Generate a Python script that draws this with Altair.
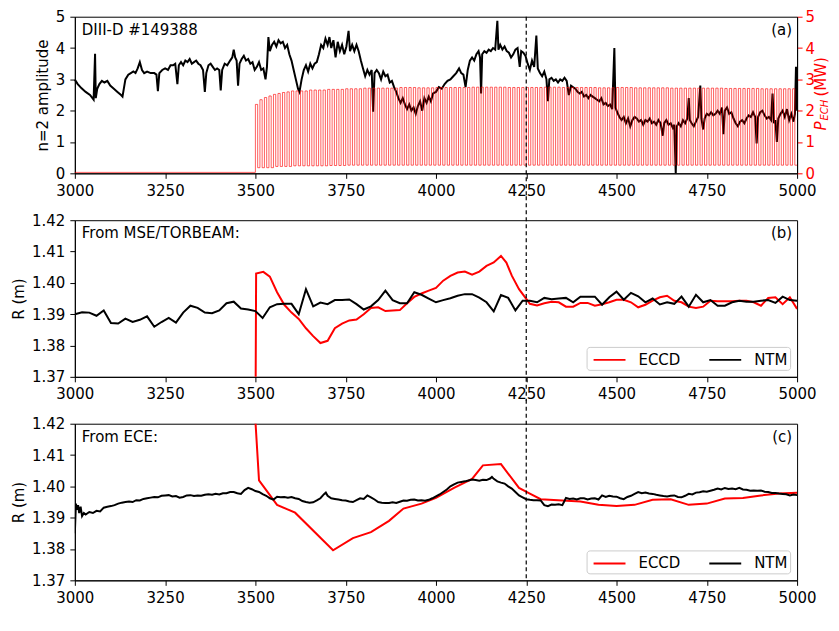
import altair as alt
import pandas as pd

# ---------------- data ----------------
# (a) n=2 amplitude (black)
amp_time = [3000, 3008, 3018, 3030, 3042, 3052, 3056, 3058, 3062, 3068, 3075, 3082, 3090, 3098, 3108, 3118,
            3128, 3132, 3140, 3148, 3155, 3162, 3168, 3174, 3180, 3186, 3192, 3200, 3210, 3220, 3226, 3230,
            3234, 3242, 3250, 3258, 3265, 3272, 3278, 3284, 3288, 3294, 3300, 3306, 3312, 3318, 3324, 3330,
            3336, 3342, 3348, 3355, 3360, 3364, 3370, 3376, 3382, 3388, 3394, 3400, 3404, 3408, 3415, 3422,
            3430, 3436, 3440, 3444, 3448, 3452, 3456, 3462, 3468, 3474, 3480, 3486, 3492, 3498, 3504, 3510,
            3516, 3522, 3528, 3532, 3536, 3540, 3546, 3552, 3558, 3564, 3570, 3576, 3582, 3588, 3594, 3600,
            3606, 3612, 3618, 3622, 3628, 3634, 3640, 3646, 3652, 3658, 3664, 3670, 3676, 3682, 3688, 3694,
            3700, 3705, 3710, 3716, 3722, 3728, 3734, 3740, 3746, 3752, 3758, 3762, 3768, 3774, 3780, 3786,
            3792, 3798, 3804, 3810, 3816, 3822, 3826, 3830, 3836, 3842, 3848, 3854, 3860, 3866, 3872, 3878,
            3884, 3890, 3896, 3902, 3908, 3914, 3920, 3926, 3932, 3938, 3944, 3950, 3956, 3962, 3968, 3974,
            3980, 3986, 3992, 4000, 4008, 4016, 4024, 4032, 4040, 4048, 4056, 4064, 4070, 4076, 4082, 4088,
            4094, 4100, 4106, 4112, 4118, 4122, 4125, 4128, 4134, 4140, 4146, 4152, 4158, 4164, 4170, 4173,
            4178, 4184, 4190, 4196, 4202, 4208, 4214, 4220, 4226, 4232, 4236, 4242, 4248, 4254, 4260, 4266,
            4272, 4278, 4282, 4288, 4294, 4300, 4306, 4310, 4314, 4320, 4326, 4332, 4338, 4344, 4350, 4356,
            4362, 4368, 4374, 4380, 4386, 4392, 4398, 4404, 4410, 4416, 4422, 4428, 4434, 4440, 4446, 4452,
            4458, 4464, 4470, 4476, 4482, 4488, 4494, 4497, 4502, 4508, 4514, 4520, 4526, 4532, 4538, 4544,
            4550, 4556, 4562, 4568, 4574, 4580, 4586, 4592, 4598, 4604, 4610, 4616, 4622, 4628, 4632, 4638,
            4644, 4650, 4656, 4660, 4664, 4667, 4672, 4678, 4684, 4690, 4696, 4700, 4703, 4708, 4714, 4720,
            4726, 4732, 4735, 4740, 4744, 4750, 4756, 4762, 4768, 4774, 4780, 4786, 4792, 4796, 4800, 4806,
            4812, 4818, 4824, 4830, 4836, 4842, 4848, 4854, 4860, 4866, 4872, 4878, 4884, 4888, 4892, 4898,
            4904, 4910, 4916, 4922, 4928, 4932, 4936, 4940, 4944, 4948, 4954, 4960, 4966, 4972, 4978, 4984,
            4990, 4994, 4997, 5000]
amp_value = [2.99, 2.85, 2.72, 2.60, 2.50, 2.35, 3.82, 2.40, 2.70, 2.85, 2.95, 2.90, 2.95, 2.80, 2.70, 2.60,
             2.50, 2.45, 3.00, 3.15, 3.20, 3.25, 3.20, 3.35, 3.55, 3.30, 3.20, 3.25, 3.20, 3.20, 3.15, 2.62,
             3.20, 3.30, 3.35, 3.30, 3.45, 3.45, 3.50, 2.85, 3.45, 3.55, 3.45, 3.60, 3.55, 3.65, 3.50, 3.55,
             3.60, 3.50, 3.45, 3.30, 2.60, 3.20, 3.45, 3.50, 3.40, 3.30, 3.35, 3.30, 2.65, 3.30, 3.50, 3.45,
             3.60, 3.70, 3.95, 3.70, 3.60, 2.80, 3.50, 3.65, 3.75, 3.60, 3.65, 3.50, 3.55, 3.30, 3.40, 3.55,
             3.30, 3.35, 3.00, 3.40, 4.35, 3.90, 4.10, 4.20, 4.05, 4.25, 4.15, 4.20, 4.00, 4.10, 3.80, 3.60,
             3.30, 3.00, 2.70, 2.60, 3.00, 3.30, 3.45, 3.25, 3.50, 3.35, 3.50, 3.55, 3.80, 4.10, 4.00, 4.30,
             4.10, 4.35, 4.00, 4.25, 3.70, 4.20, 3.90, 4.10, 3.80, 4.05, 4.55, 3.90, 4.10, 3.90, 4.10, 3.90,
             3.60, 3.35, 3.10, 3.30, 3.15, 3.30, 1.97, 3.20, 3.30, 3.20, 3.00, 3.25, 3.10, 3.15, 2.90, 2.95,
             2.75, 2.60, 2.40, 2.25, 2.40, 2.20, 2.05, 2.20, 2.00, 2.10, 1.90, 2.15, 2.30, 2.00, 2.40, 2.25,
             2.45, 2.30, 2.55, 2.60, 2.75, 2.70, 2.85, 2.95, 3.00, 3.10, 3.20, 3.35, 3.20, 3.15, 2.75, 3.30,
             3.60, 3.70, 3.60, 3.80, 3.90, 3.70, 2.55, 3.80, 3.90, 3.85, 3.95, 3.90, 4.00, 3.95, 4.87, 3.95,
             4.10, 3.95, 4.05, 3.90, 3.85, 3.70, 3.80, 3.95, 4.00, 3.40, 3.90, 3.85, 3.75, 3.50, 3.30, 3.60,
             3.40, 4.40, 3.35, 3.20, 3.10, 3.25, 3.00, 2.30, 3.00, 3.05, 2.95, 3.00, 2.90, 3.00, 2.95, 3.05,
             2.95, 2.50, 2.80, 2.75, 2.70, 2.60, 2.55, 2.60, 2.45, 2.50, 2.40, 2.50, 2.45, 2.40, 2.35, 2.30,
             2.40, 2.20, 2.25, 2.15, 2.20, 2.05, 4.00, 2.10, 1.95, 1.80, 1.70, 1.80, 1.60, 1.75, 1.50, 1.70,
             1.80, 1.75, 1.65, 1.70, 1.55, 1.70, 1.65, 1.75, 1.60, 1.65, 1.55, 1.70, 1.60, 1.20, 1.60, 1.70,
             1.55, 1.60, 1.45, 1.55, 0.00, 1.50, 1.60, 1.50, 1.70, 1.60, 1.75, 2.40, 1.70, 1.60, 1.50, 1.65,
             1.80, 2.80, 1.75, 1.40, 1.75, 1.90, 1.85, 1.95, 1.85, 1.90, 2.00, 1.90, 2.10, 1.25, 2.00, 2.10,
             1.90, 1.95, 1.75, 1.60, 1.50, 1.65, 1.70, 1.60, 1.75, 1.85, 1.80, 1.95, 1.80, 0.95, 1.80, 1.95,
             2.00, 1.85, 1.75, 1.80, 1.70, 2.55, 1.60, 1.70, 1.00, 1.75, 1.90, 2.00, 1.80, 2.05, 1.70, 1.90,
             1.65, 1.90, 3.40, 2.00]

# (a) ECH power (red): square-wave modulation
ech_off_level = 0.03          # MW before turn-on
ech_on_time = 3500            # ms
ech_period = 12.5             # ms (modulation period)
ech_ramp_high = [2.20, 2.35, 2.42, 2.47, 2.52, 2.55, 2.58, 2.60]   # first cycles (turn-on ramp)
ech_block_ms = 50             # afterwards: levels per 50 ms block from 3500 ms
ech_high = [2.60, 2.60, 2.63, 2.66, 2.68, 2.70, 2.72, 2.72, 2.74, 2.73,
            2.74, 2.74, 2.75, 2.75, 2.74, 2.74, 2.75, 2.74, 2.74, 2.73,
            2.74, 2.73, 2.73, 2.72, 2.72, 2.72, 2.71, 2.71, 2.70, 2.70]
ech_low = [0.18, 0.22, 0.24, 0.24, 0.25, 0.26, 0.26, 0.26, 0.26, 0.26,
           0.26, 0.26, 0.26, 0.26, 0.26, 0.26, 0.26, 0.26, 0.26, 0.26,
           0.26, 0.26, 0.26, 0.26, 0.26, 0.26, 0.26, 0.26, 0.26, 0.26]

# (b) From MSE/TORBEAM
b_ntm_time = list(range(3000, 5001, 20))
b_ntm_r = [1.3900, 1.3906, 1.3905, 1.3895, 1.3912, 1.3872, 1.3870, 1.3886, 1.3875, 1.3882,
           1.3893, 1.3860, 1.3875, 1.3888, 1.3873, 1.3905, 1.3927, 1.3920, 1.3905, 1.3903,
           1.3912, 1.3935, 1.3940, 1.3918, 1.3915, 1.3910, 1.3888, 1.3922, 1.3932, 1.3933,
           1.3933, 1.3900, 1.3980, 1.3925, 1.3937, 1.3932, 1.3945, 1.3945, 1.3947, 1.3932,
           1.3915, 1.3925, 1.3945, 1.3975, 1.3945, 1.3935, 1.3935, 1.3970, 1.3962, 1.3950,
           1.3938, 1.3945, 1.3951, 1.3959, 1.3964, 1.3964, 1.3953, 1.3938, 1.3909, 1.3961,
           1.3952, 1.3912, 1.3943, 1.3943, 1.3938, 1.3952, 1.3948, 1.3950, 1.3952, 1.3938,
           1.3956, 1.3956, 1.3956, 1.3930, 1.3954, 1.3972, 1.3946, 1.3968, 1.3957, 1.3938,
           1.3950, 1.3931, 1.3938, 1.3933, 1.3956, 1.3924, 1.3962, 1.3938, 1.3945, 1.3927,
           1.3927, 1.3938, 1.3943, 1.3940, 1.3940, 1.3943, 1.3945, 1.3936, 1.3956, 1.3945,
           1.3943]
b_eccd_time = [3500, 3502, 3522, 3540, 3560, 3580, 3600, 3620, 3640, 3660, 3680, 3700, 3720, 3740,
               3760, 3780, 3800, 3820, 3840, 3860, 3880, 3900, 3920, 3940, 3960, 3980, 4000, 4020,
               4040, 4060, 4080, 4100, 4120, 4140, 4160, 4180, 4195, 4210, 4230, 4250, 4260, 4280,
               4300, 4320, 4340, 4360, 4380, 4400, 4420, 4440, 4460, 4480, 4500, 4520, 4540, 4560,
               4580, 4600, 4620, 4640, 4660, 4680, 4700, 4720, 4740, 4760, 4780, 4800, 4820, 4840,
               4860, 4880, 4900, 4920, 4940, 4960, 4980, 5000]
b_eccd_r = [1.3500, 1.4030, 1.4035, 1.4020, 1.3970, 1.3930, 1.3905, 1.3885, 1.3855, 1.3830,
            1.3808, 1.3815, 1.3855, 1.3870, 1.3880, 1.3883, 1.3900, 1.3920, 1.3922, 1.3910,
            1.3912, 1.3913, 1.3935, 1.3955, 1.3966, 1.3975, 1.3984, 1.4007, 1.4022, 1.4033,
            1.4036, 1.4026, 1.4036, 1.4054, 1.4065, 1.4086, 1.4065, 1.4023, 1.3980, 1.3949,
            1.3933, 1.3928, 1.3935, 1.3940, 1.3938, 1.3924, 1.3924, 1.3936, 1.3936, 1.3927,
            1.3932, 1.3938, 1.3946, 1.3946, 1.3938, 1.3922, 1.3930, 1.3943, 1.3954, 1.3959,
            1.3943, 1.3938, 1.3924, 1.3920, 1.3924, 1.3943, 1.3941, 1.3941, 1.3941, 1.3943,
            1.3943, 1.3938, 1.3927, 1.3952, 1.3954, 1.3932, 1.3954, 1.3917]

# (c) From ECE
c_eccd_time = [3490, 3510, 3560, 3610, 3715, 3770, 3820, 3870, 3910, 3960, 4000, 4050, 4100, 4130,
               4180, 4230, 4260, 4290, 4350, 4400, 4450, 4500, 4550, 4600, 4650, 4700, 4750, 4800,
               4850, 4900, 4950, 5000]
c_eccd_r = [1.4400, 1.4019, 1.3941, 1.3916, 1.3796, 1.3835, 1.3854, 1.3890, 1.3929, 1.3945,
            1.3963, 1.3995, 1.4024, 1.4067, 1.4071, 1.3995, 1.3977, 1.3959, 1.3955, 1.3952,
            1.3941, 1.3937, 1.3941, 1.3957, 1.3959, 1.3941, 1.3945, 1.3961, 1.3963, 1.3971,
            1.3977, 1.3980]
c_ntm_time = [3000, 3003, 3006, 3009, 3012, 3016, 3020, 3025] + list(range(3030, 3691, 10)) + \
             [3695] + list(range(3700, 4151, 10)) + [4155] + list(range(4160, 5001, 10))
c_ntm_r = [1.3850, 1.3945, 1.3925, 1.3940, 1.3915, 1.3935, 1.3905, 1.3915,
           # 3030 .. 3690
           1.3910, 1.3918, 1.3915, 1.3922, 1.3920, 1.3932, 1.3935, 1.3937, 1.3940, 1.3945,
           1.3948, 1.3950, 1.3952, 1.3950, 1.3956, 1.3955, 1.3960, 1.3962, 1.3964, 1.3966,
           1.3965, 1.3970, 1.3971, 1.3972, 1.3968, 1.3969, 1.3964, 1.3966, 1.3971, 1.3972,
           1.3969, 1.3971, 1.3970, 1.3973, 1.3975, 1.3973, 1.3976, 1.3974, 1.3978, 1.3978,
           1.3982, 1.3982, 1.3978, 1.3976, 1.3988, 1.3995, 1.3991, 1.3985, 1.3982, 1.3975,
           1.3970, 1.3962, 1.3958, 1.3967, 1.3965, 1.3966, 1.3964, 1.3966, 1.3962, 1.3960,
           1.3953, 1.3950, 1.3948, 1.3949, 1.3955, 1.3962, 1.3975,
           # 3695
           1.3980,
           # 3700 .. 4150
           1.3970, 1.3962, 1.3960, 1.3958, 1.3956, 1.3955, 1.3952, 1.3950, 1.3956, 1.3962,
           1.3960, 1.3971, 1.3965, 1.3958, 1.3950, 1.3948, 1.3947, 1.3947, 1.3949, 1.3947,
           1.3951, 1.3955, 1.3954, 1.3957, 1.3958, 1.3955, 1.3956, 1.3954, 1.3957, 1.3962,
           1.3968, 1.3974, 1.3982, 1.3990, 1.4000, 1.4006, 1.4012, 1.4014, 1.4016, 1.4019,
           1.4022, 1.4020, 1.4018, 1.4021, 1.4020, 1.4025,
           # 4155
           1.4030,
           # 4160 .. 5000
           1.4024, 1.4016, 1.4012, 1.4009, 1.4000, 1.3993, 1.3982, 1.3971, 1.3965, 1.3959,
           1.3957, 1.3956, 1.3956, 1.3955, 1.3940, 1.3937, 1.3942, 1.3941, 1.3943, 1.3940,
           1.3963, 1.3960, 1.3961, 1.3958, 1.3962, 1.3962, 1.3958, 1.3961, 1.3962, 1.3958,
           1.3971, 1.3966, 1.3970, 1.3968, 1.3967, 1.3962, 1.3959, 1.3966, 1.3970, 1.3976,
           1.3982, 1.3978, 1.3980, 1.3977, 1.3976, 1.3973, 1.3971, 1.3969, 1.3968, 1.3970,
           1.3971, 1.3966, 1.3965, 1.3970, 1.3976, 1.3974, 1.3980, 1.3981, 1.3984, 1.3983,
           1.3986, 1.3989, 1.3993, 1.3990, 1.3995, 1.3992, 1.3993, 1.3991, 1.3995, 1.3990,
           1.3989, 1.3986, 1.3987, 1.3986, 1.3987, 1.3983, 1.3982, 1.3979, 1.3979, 1.3977,
           1.3976, 1.3975, 1.3971, 1.3974, 1.3972]

x_ticks = [3000, 3250, 3500, 3750, 4000, 4250, 4500, 4750, 5000]
amp_ticks = [0, 1, 2, 3, 4, 5]
r_ticks = [1.37, 1.38, 1.39, 1.40, 1.41, 1.42]
marker_time = 4250
series_names = ["ECCD", "NTM"]
series_colors = ["#ff0000", "#000000"]

# ---------------- tables ----------------
amp_df = pd.DataFrame({"t": amp_time, "v": amp_value})
amp_df["i"] = range(len(amp_df))

ech_t = [3000, ech_on_time]
ech_v = [ech_off_level, ech_off_level]
n_cycles = int(round((5000 - ech_on_time) / ech_period))
for k in range(n_cycles):
    t0 = ech_on_time + k * ech_period
    blk = min(int((t0 - ech_on_time) // ech_block_ms), len(ech_high) - 1)
    hi = ech_ramp_high[k] if k < len(ech_ramp_high) else ech_high[blk]
    lo = ech_low[blk]
    ech_t += [t0, t0 + ech_period / 2, t0 + ech_period / 2, t0 + ech_period]
    ech_v += [hi, hi, lo, lo]
ech_df = pd.DataFrame({"t": ech_t, "p": ech_v})
ech_df["i"] = range(len(ech_df))


def series_df(t_e, r_e, t_n, r_n):
    d1 = pd.DataFrame({"t": t_e, "r": r_e, "s": "ECCD"})
    d2 = pd.DataFrame({"t": t_n, "r": r_n, "s": "NTM"})
    d = pd.concat([d1, d2], ignore_index=True)
    d["i"] = range(len(d))
    return d


b_df = series_df(b_eccd_time, b_eccd_r, b_ntm_time, b_ntm_r)
c_df = series_df(c_eccd_time, c_eccd_r, c_ntm_time, c_ntm_r)
one = pd.DataFrame({"t": [marker_time]})

# ---------------- chart ----------------
FONT = "DejaVu Sans"
FS = 15
W = 724
HA, HB, HC = 157, 157, 157
GAP = 47
xscale = alt.Scale(domain=[3000, 5000], nice=False, zero=False)


def xenc(title=None):
    return alt.X("t:Q", scale=xscale,
                 axis=alt.Axis(values=x_ticks, format="d", title=title, labelFlush=False))


def rule(h, top, bottom):
    return alt.Chart(one).mark_rule(color="black", strokeDash=[4, 3], strokeWidth=1.2).encode(
        x=xenc(), y=alt.value(top), y2=alt.value(h + bottom))


def label(text, x, y, align="left", color="black", size=FS, **kw):
    return alt.Chart(one).mark_text(text=text, align=align, baseline="alphabetic", font=FONT,
                                    fontSize=size, color=color, **kw).encode(
        x=alt.value(x), y=alt.value(y))


amp_line = alt.Chart(amp_df).mark_line(color="black", strokeWidth=2).encode(
    x=xenc(),
    y=alt.Y("v:Q", scale=alt.Scale(domain=[0, 5], nice=False),
            axis=alt.Axis(values=amp_ticks, title="n=2 amplitude", orient="left")),
    order=alt.Order("i:Q"))

ech_line = alt.Chart(ech_df).mark_line(color="red", strokeWidth=0.7, opacity=0.9).encode(
    x=xenc(),
    y=alt.Y("p:Q", scale=alt.Scale(domain=[0, 5], nice=False),
            axis=alt.Axis(values=amp_ticks, title=None, orient="right", labelPadding=3,
                          labelColor="red", tickColor="red")),
    order=alt.Order("i:Q"))

p_title = [
    label("P", W + 29, 114, color="red", angle=270, fontStyle="italic"),
    label("ECH", W + 31, 104, color="red", size=10, angle=270, fontStyle="italic"),
    label("(MW)", W + 29, 80, color="red", angle=270),
]

panel_a = alt.layer(
    amp_line, ech_line,
    rule(HA, 0, 24),
    label("DIII-D #149388", 7, 18),
    label("(a)", W - 5, 18, align="right"),
    *p_title,
).resolve_scale(y="independent").properties(width=W, height=HA)


def r_panel(df, h, text, tag, xtitle, bottom_ext):
    lines = alt.Chart(df).mark_line(strokeWidth=2, clip=True).encode(
        x=xenc(xtitle),
        y=alt.Y("r:Q", scale=alt.Scale(domain=[1.37, 1.42], nice=False, zero=False),
                axis=alt.Axis(values=r_ticks, format=".2f", title="R (m)")),
        color=alt.Color("s:N", scale=alt.Scale(domain=series_names, range=series_colors),
                        legend=alt.Legend(title=None)),
        order=alt.Order("i:Q"))
    return alt.layer(
        lines,
        rule(h, -24, bottom_ext),
        label(text, 7, 18),
        label(tag, W - 5, 18, align="right"),
    ).properties(width=W, height=h)


panel_b = r_panel(b_df, HB, "From MSE/TORBEAM:", "(b)", None, 24)
panel_c = r_panel(c_df, HC, "From ECE:", "(c)", "Time (ms)", 0)

chart = alt.vconcat(panel_a, panel_b, panel_c, spacing=GAP, bounds="flush").resolve_scale(
    color="independent").resolve_legend(color="independent").properties(
    padding={"left": 3, "top": 0, "right": 0, "bottom": 0}
).configure_view(stroke="black", strokeWidth=1).configure_axis(
    labelFont=FONT, titleFont=FONT, labelFontSize=FS, titleFontSize=FS, titleFontWeight="normal",
    tickSize=5, tickColor="black", tickWidth=1, domainColor="black", domainWidth=1,
    labelColor="black", titleColor="black", grid=False
).configure_axisX(labelPadding=5, titlePadding=2).configure_axisY(
    labelPadding=5, titlePadding=5
).configure_legend(
    orient="bottom-right", direction="horizontal", offset=7, padding=2,
    fillColor="white", strokeColor="#cccccc", cornerRadius=3,
    symbolType="M-0.6,0H2.6", symbolSize=400, symbolStrokeWidth=2,
    labelFont=FONT, labelFontSize=FS, labelColor="black", columnPadding=24, labelOffset=28
)

chart.save("out.html", embed_options={"renderer": "svg", "actions": False})
